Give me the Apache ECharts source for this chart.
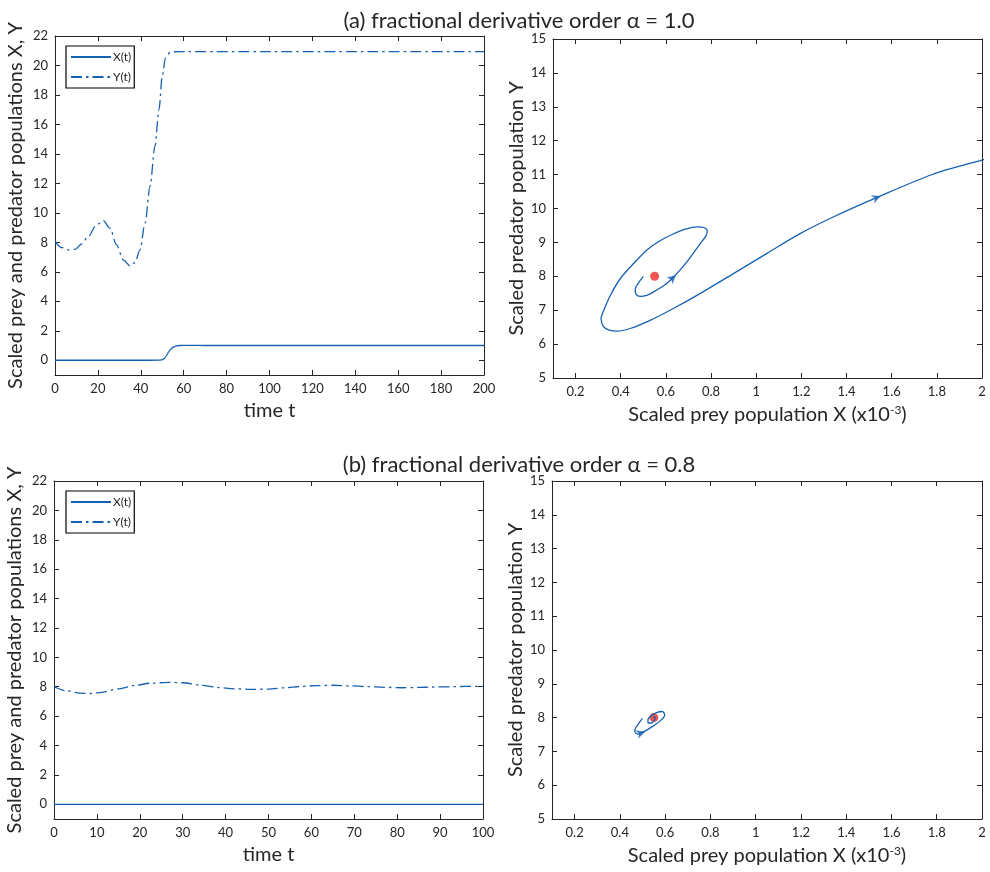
<!DOCTYPE html>
<html>
<head>
<meta charset="utf-8">
<script src="https://cdn.jsdelivr.net/npm/echarts@6/dist/echarts.min.js"></script>
<style>
html,body{margin:0;padding:0;background:#fff;}
#chart{width:990px;height:872px;}
</style>
</head>
<body>
<div id="chart"></div>
<script>
// ---------- DATA ----------
// (a) alpha = 1.0 time series
const tPreyA = [0, 20, 40, 48, 49.7, 51, 52, 53, 54, 55.2, 56.5, 58, 62, 70, 120, 200];
const preyA  = [0.0005, 0.0005, 0.0005, 0.003, 0.02, 0.12, 0.32, 0.56, 0.76, 0.9, 0.97, 1.0, 1.01, 1.0, 1.0, 1.0];
const tPredA = [0, 3, 6.2, 9.3, 12.5, 15.5, 19.4, 22.5, 25.6, 28.7, 31.8, 35, 37.3, 39.6, 42, 44.3, 46.6, 48.5, 50, 51.6, 53.6, 56, 60, 100, 150, 200];
const predA  = [8.06, 7.65, 7.49, 7.52, 7.9, 8.40, 9.20, 9.47, 8.97, 7.83, 6.81, 6.40, 6.63, 7.49, 9.31, 11.8, 14.53, 17.03, 19.3, 20.55, 20.88, 20.93, 20.94, 20.94, 20.94, 20.94];
// (a) phase portrait, X in units of 1e-3
const phaseAX = [0.500, 0.478, 0.464, 0.468, 0.486, 0.515, 0.545, 0.590, 0.630, 0.692, 0.745, 0.778, 0.783, 0.768, 0.740, 0.690, 0.630, 0.574, 0.520, 0.460, 0.400, 0.355, 0.325, 0.313, 0.323, 0.346, 0.383, 0.442, 0.530, 0.633, 0.751, 0.899, 1.046, 1.194, 1.341, 1.533, 1.783, 2.0, 2.2];
const phaseAY = [8.00, 7.80, 7.62, 7.47, 7.41, 7.44, 7.54, 7.72, 7.95, 8.42, 8.90, 9.20, 9.35, 9.44, 9.46, 9.40, 9.24, 9.05, 8.80, 8.40, 7.95, 7.45, 7.00, 6.75, 6.52, 6.42, 6.38, 6.46, 6.70, 7.05, 7.49, 8.08, 8.67, 9.26, 9.75, 10.32, 11.01, 11.43, 11.8];
const arrowsA = [[0.630, 7.95], [1.533, 10.32]];
// (b) alpha = 0.8 time series
const tPreyB = [0, 100];
const preyB  = [0.00055, 0.00055];
const tPredB = [0, 3, 6, 8.5, 11, 15, 19, 22.5, 27, 30, 34, 38, 42, 46, 50, 54, 57.5, 61, 65, 69, 73, 77, 81, 85, 88, 92, 96, 100];
const predB  = [8.0, 7.72, 7.56, 7.54, 7.62, 7.86, 8.10, 8.24, 8.30, 8.27, 8.12, 7.95, 7.86, 7.82, 7.84, 7.93, 8.02, 8.07, 8.10, 8.06, 8.01, 7.96, 7.93, 7.95, 7.98, 8.0, 8.02, 8.03];
// (b) phase portrait
const phaseBX = [0.500, 0.470, 0.466, 0.480, 0.502, 0.545, 0.584, 0.598, 0.588, 0.562, 0.539, 0.524, 0.524, 0.539, 0.554, 0.556, 0.548];
const phaseBY = [7.98, 7.70, 7.59, 7.51, 7.57, 7.74, 7.94, 8.08, 8.18, 8.15, 8.06, 7.94, 7.84, 7.84, 7.94, 8.02, 8.02];
const arrowsB = [[0.493, 7.54]];
// equilibrium point
const equilibrium = [[0.55, 8.0]];
// tick values
const ticksTimeA = [0, 20, 40, 60, 80, 100, 120, 140, 160, 180, 200];
const ticksTimeB = [0, 10, 20, 30, 40, 50, 60, 70, 80, 90, 100];
const ticksPop   = [0, 2, 4, 6, 8, 10, 12, 14, 16, 18, 20, 22];
const ticksPreyX = [0.2, 0.4, 0.6, 0.8, 1, 1.2, 1.4, 1.6, 1.8, 2];
const ticksPredY = [5, 6, 7, 8, 9, 10, 11, 12, 13, 14, 15];
const titles = ['(a) fractional derivative order \u03B1 = 1.0', '(b) fractional derivative order \u03B1 = 0.8'];

// ---------- CHART ----------
const FONT = 'Lato';
const INK = '#262626';
const BLUE = '#1660b2';
const RED = '#ee2b24';
const zip = (a, b) => a.map((v, i) => [v, b[i]]);

const grids = [
  {left: 55, top: 36, width: 429, height: 339},
  {left: 553, top: 39, width: 429, height: 339},
  {left: 54, top: 481, width: 429, height: 338},
  {left: 552, top: 481, width: 430, height: 338}
];

function axis(gi, pos, min, max, ticks, labels, name, nameGap) {
  return {
    type: 'value', gridIndex: gi, position: pos, min: min, max: max,
    name: name || '', nameLocation: 'middle', nameGap: nameGap || 0,
    nameTextStyle: {fontFamily: FONT, fontSize: 20, color: INK,
      rich: {sup: {fontFamily: FONT, fontSize: 12, color: INK, verticalAlign: 'top', padding: [0, 0, 10, 0]},
             n: {fontFamily: FONT, fontSize: 20, color: INK}}},
    axisLine: {show: true, onZero: false, lineStyle: {color: INK, width: 1}},
    axisTick: {show: true, inside: true, length: 5, customValues: ticks, lineStyle: {color: INK, width: 1}},
    axisLabel: {show: labels, customValues: ticks, fontFamily: FONT, fontSize: 13, color: INK, margin: 7},
    splitLine: {show: false}
  };
}

const xLabelPhase = '{n|Scaled prey population X (x10}{sup|-3}{n|)}';
const xAxes = [], yAxes = [];
// grid 0
xAxes.push(axis(0, 'bottom', 0, 200, ticksTimeA, true, 'time t', 26));
xAxes.push(axis(0, 'top', 0, 200, ticksTimeA, false));
yAxes.push(axis(0, 'left', -1, 22, ticksPop, true, 'Scaled prey and predator populations X, Y', 29));
yAxes.push(axis(0, 'right', -1, 22, ticksPop, false));
// grid 1
xAxes.push(axis(1, 'bottom', 0.1, 2, ticksPreyX, true, xLabelPhase, 26));
xAxes.push(axis(1, 'top', 0.1, 2, ticksPreyX, false));
yAxes.push(axis(1, 'left', 5, 15, ticksPredY, true, 'Scaled predator population Y', 26));
yAxes.push(axis(1, 'right', 5, 15, ticksPredY, false));
// grid 2
xAxes.push(axis(2, 'bottom', 0, 100, ticksTimeB, true, 'time t', 26));
xAxes.push(axis(2, 'top', 0, 100, ticksTimeB, false));
yAxes.push(axis(2, 'left', -1, 22, ticksPop, true, 'Scaled prey and predator populations X, Y', 29));
yAxes.push(axis(2, 'right', -1, 22, ticksPop, false));
// grid 3
xAxes.push(axis(3, 'bottom', 0.1, 2, ticksPreyX, true, xLabelPhase, 26));
xAxes.push(axis(3, 'top', 0.1, 2, ticksPreyX, false));
yAxes.push(axis(3, 'left', 5, 15, ticksPredY, true, 'Scaled predator population Y', 26));
yAxes.push(axis(3, 'right', 5, 15, ticksPredY, false));

const ARROW = 'path://M5,0 L10,10 L5,7 L0,10 Z';

function tsLine(name, xi, yi, data, dashed) {
  return {
    type: 'line', name: name, xAxisIndex: xi, yAxisIndex: yi, data: data,
    symbol: 'none', smooth: 0.3, smoothMonotone: 'x', animation: false,
    lineStyle: {color: BLUE, width: 1.3, type: dashed ? [11, 4, 2.5, 4] : 'solid'},
    itemStyle: {color: BLUE}
  };
}
function phaseLine(xi, yi, data) {
  return {
    type: 'line', xAxisIndex: xi, yAxisIndex: yi, data: data, symbol: 'none',
    smooth: 0.3, animation: false, clip: true, z: 3,
    lineStyle: {color: BLUE, width: 1.3}
  };
}
function dot(xi, yi) {
  return {type: 'scatter', xAxisIndex: xi, yAxisIndex: yi, data: equilibrium,
    symbol: 'circle', symbolSize: 9, itemStyle: {color: RED}, z: 2, animation: false};
}
function arrows(xi, yi, pts, rots) {
  return {type: 'scatter', xAxisIndex: xi, yAxisIndex: yi,
    data: pts.map((p, i) => ({value: p, symbolRotate: rots[i]})),
    symbol: ARROW, symbolSize: [9, 9], itemStyle: {color: BLUE}, z: 4, animation: false};
}

const series = [
  tsLine('X(t)', 0, 0, zip(tPreyA, preyA), false),
  tsLine('Y(t)', 0, 0, zip(tPredA, predA), true),
  dot(2, 2),
  phaseLine(2, 2, zip(phaseAX, phaseAY)),
  arrows(2, 2, arrowsA, [-48, -67]),
  tsLine('X(t)', 4, 4, zip(tPreyB, preyB), false),
  tsLine('Y(t)', 4, 4, zip(tPredB, predB), true),
  dot(6, 6),
  phaseLine(6, 6, zip(phaseBX, phaseBY)),
  arrows(6, 6, arrowsB, [-72])
];

function legend(top) {
  return {
    show: true, orient: 'vertical', left: 66, top: top,
    data: ['X(t)', 'Y(t)'], itemWidth: 40, itemHeight: 10, itemGap: 8,
    padding: [5, 3, 5, 4], borderColor: '#000', borderWidth: 1.2, backgroundColor: '#fff',
    itemStyle: {opacity: 0},
    textStyle: {fontFamily: FONT, fontSize: 12, color: INK, padding: [0, 0, 0, -3]},
    selectedMode: false
  };
}

const option = {
  backgroundColor: '#fff',
  animation: false,
  title: [
    {text: titles[0], left: 514, top: 5, textAlign: 'center', textStyle: {fontFamily: FONT, fontSize: 22, fontWeight: 'normal', color: INK}},
    {text: titles[1], left: 514, top: 449, textAlign: 'center', textStyle: {fontFamily: FONT, fontSize: 22, fontWeight: 'normal', color: INK}}
  ],
  legend: [legend(46), legend(491)],
  grid: grids,
  xAxis: xAxes,
  yAxis: yAxes,
  series: series
};

const chart = echarts.init(document.getElementById('chart'), null, {renderer: 'canvas'});
chart.setOption(option);
</script>
</body>
</html>
